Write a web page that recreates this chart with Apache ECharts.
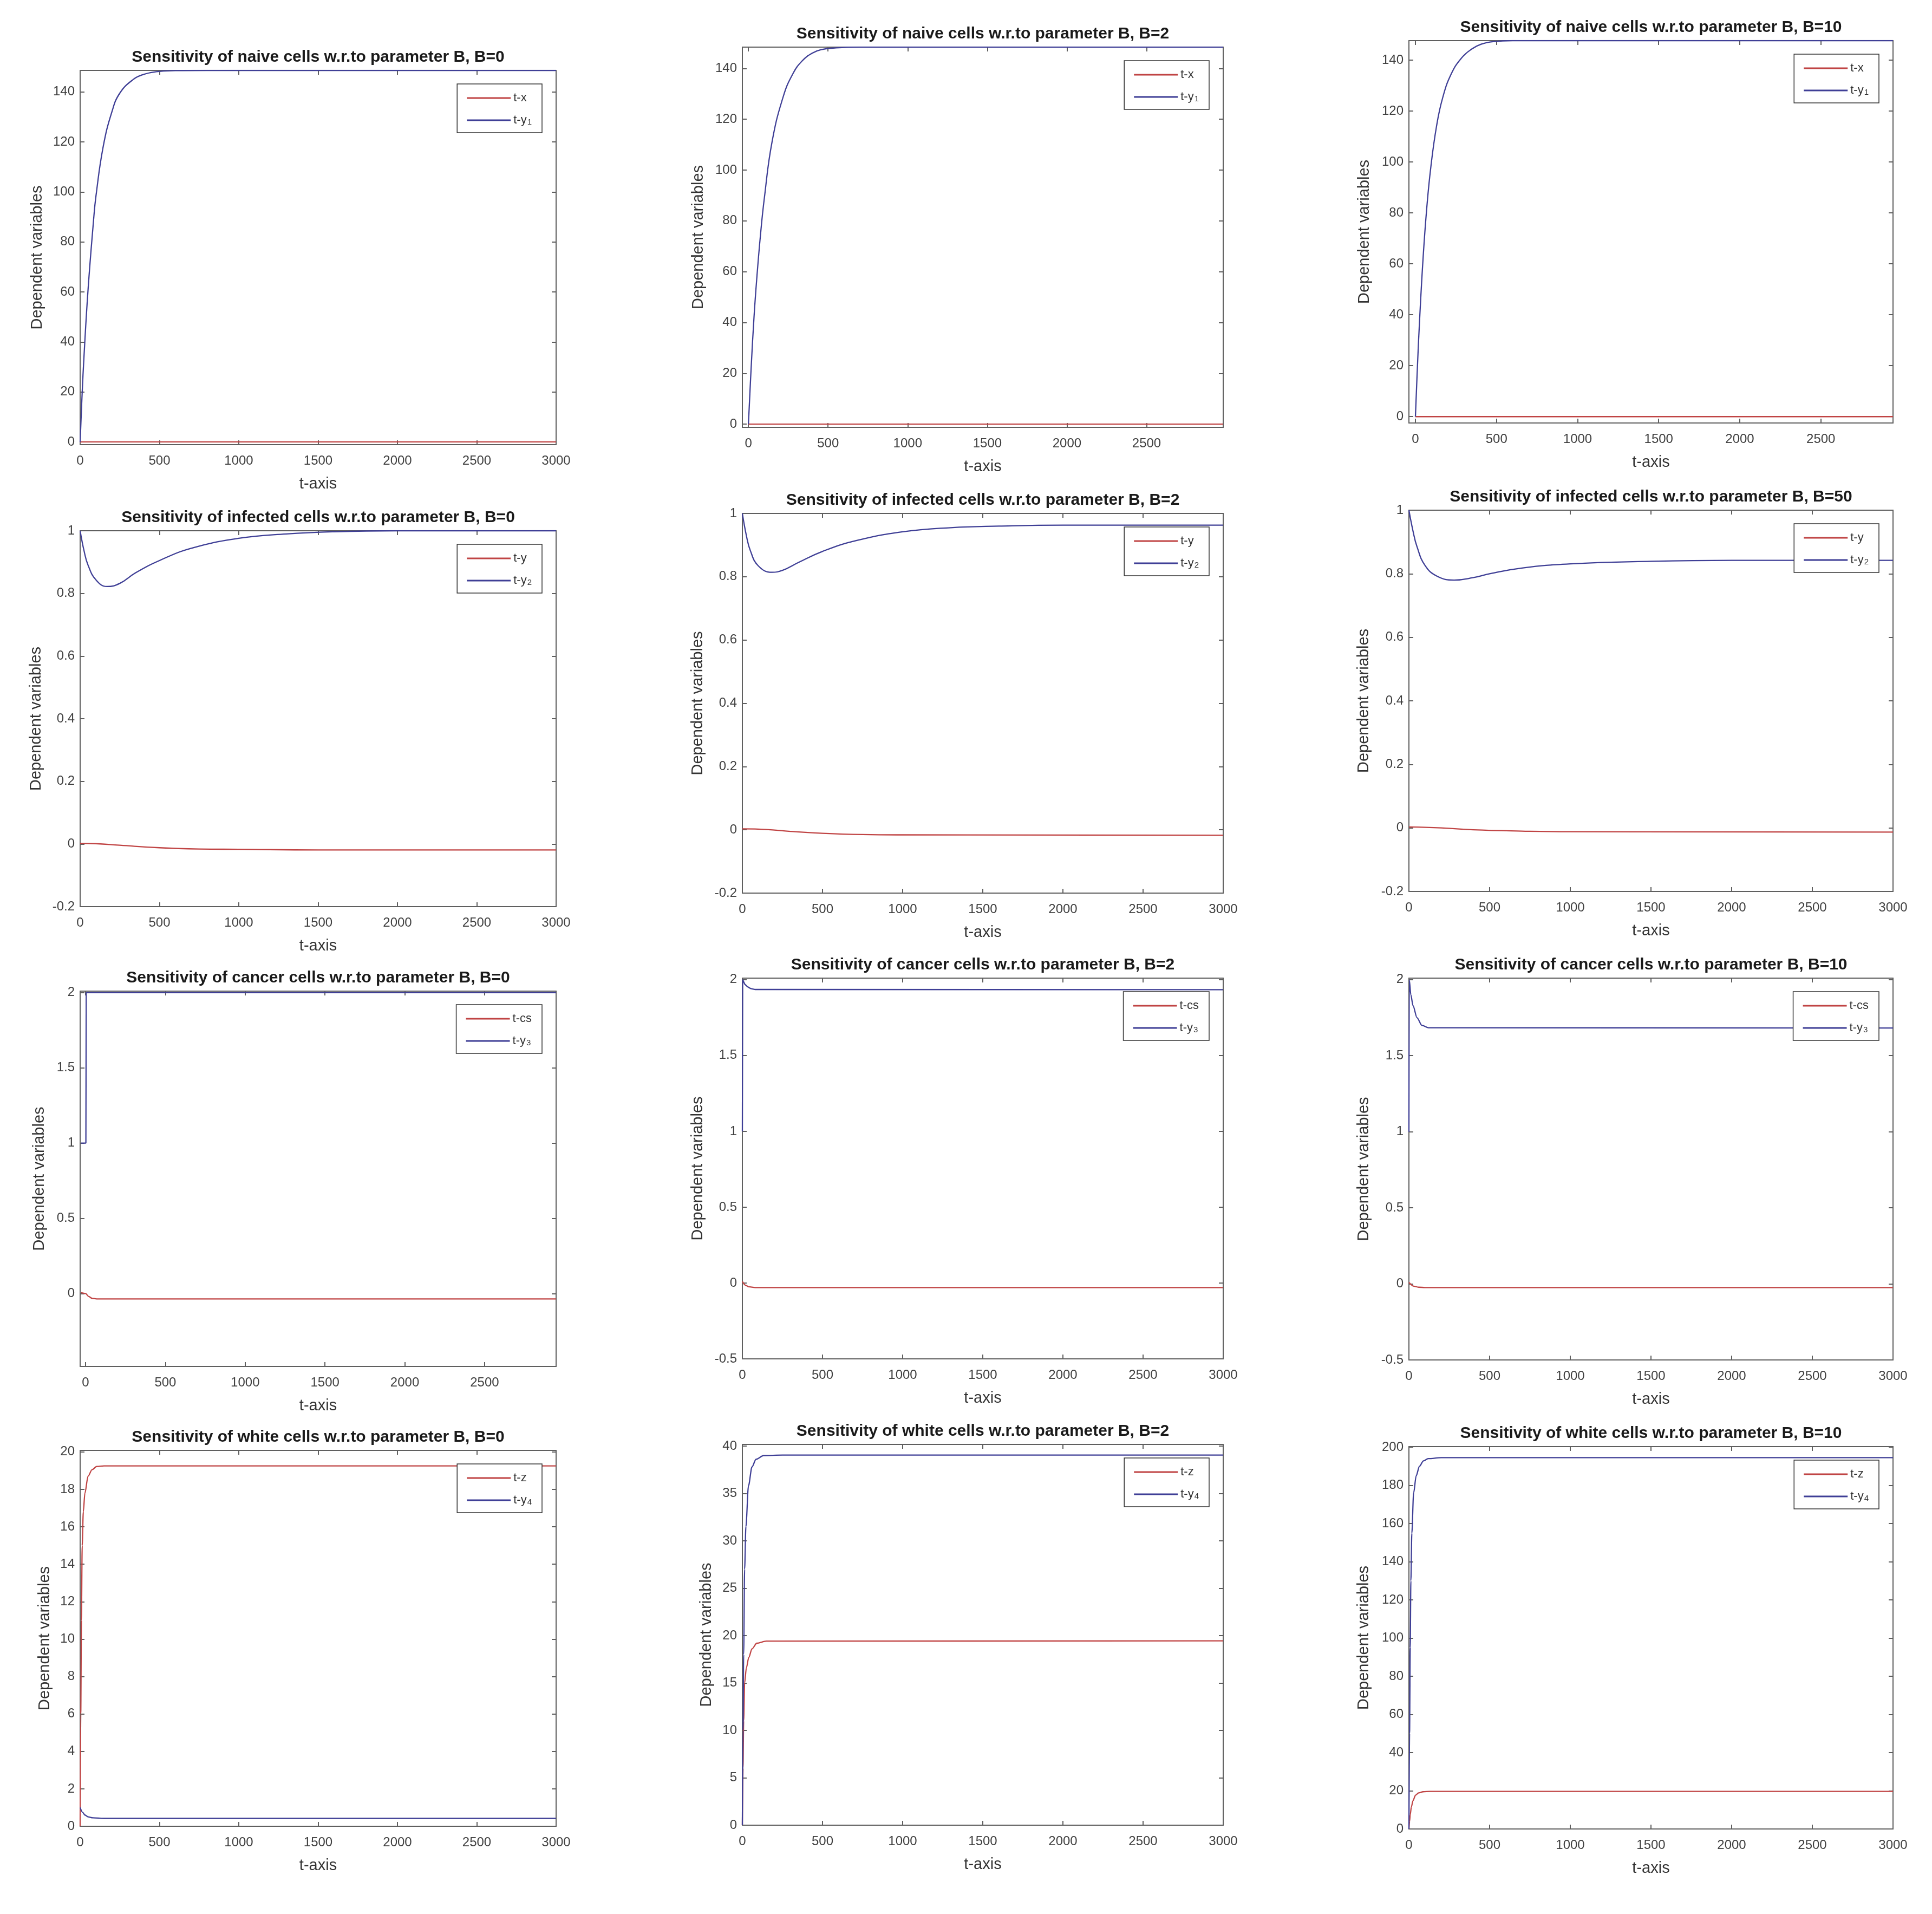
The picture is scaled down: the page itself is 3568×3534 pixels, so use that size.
<!DOCTYPE html>
<html>
<head>
<meta charset="utf-8">
<title>Sensitivity w.r.to parameter B</title>
<script src="https://cdn.jsdelivr.net/npm/echarts@6.0.0/dist/echarts.min.js"></script>
<style>
  html, body { margin: 0; padding: 0; background: #fff; }
  #SensitivityChartDom { width: 3568px; height: 3534px; }
</style>
</head>
<body>
<div id="SensitivityChartDom"></div>
<script>
// tick labels
const ticksT3000 = [0, 500, 1000, 1500, 2000, 2500, 3000];
const ticksT2500 = [0, 500, 1000, 1500, 2000, 2500];
const ticksNaive = [0, 20, 40, 60, 80, 100, 120, 140];
const ticksInfected = [-0.2, 0, 0.2, 0.4, 0.6, 0.8, 1];
const ticksCancer0 = [0, 0.5, 1, 1.5, 2];
const ticksCancer = [-0.5, 0, 0.5, 1, 1.5, 2];
const ticksWhite0 = [0, 2, 4, 6, 8, 10, 12, 14, 16, 18, 20];
const ticksWhite2 = [0, 5, 10, 15, 20, 25, 30, 35, 40];
const ticksWhite10 = [0, 20, 40, 60, 80, 100, 120, 140, 160, 180, 200];

// naive cells
const naive0T = [0, 12, 25, 50, 85, 100, 145, 200, 250, 335, 400, 480, 600, 800, 3000];
const naive0Y1 = [0, 18.5, 35, 61, 89, 98.5, 118, 132, 139.5, 145, 147, 148.1, 148.5, 148.6, 148.6];
const naive0XT = [0, 3000];
const naive0X = [0, 0];

const naive2T = [0, 17, 35, 52, 75, 100, 148, 219, 280, 338, 400, 457, 550, 700, 2981];
const naive2Y1 = [0, 22, 42, 57, 74, 89, 111, 129, 138, 143, 146, 147.4, 148.1, 148.4, 148.4];
const naive2XT = [0, 2981];
const naive2X = [0, 0];

const naive10T = [0, 12, 25, 48, 70, 95, 130, 167, 220, 286, 350, 405, 480, 600, 2945];
const naive10Y1 = [0, 19, 37, 63, 82, 98, 114, 125, 134.5, 141, 144.5, 146.3, 147.3, 147.7, 147.7];
const naive10XT = [0, 2945];
const naive10X = [0, 0];

// infected cells
const infected0T = [0, 25, 50, 100, 170, 250, 350, 500, 700, 1000, 1300, 1600, 2000, 3000];
const infected0Y2 = [1.0, 0.935, 0.89, 0.843, 0.822, 0.832, 0.866, 0.905, 0.944, 0.976, 0.99, 0.997, 1.0, 1.0];
const infected0YT = [0, 100, 250, 500, 750, 1000, 1500, 3000];
const infected0Y = [0.002, 0.001, -0.004, -0.012, -0.016, -0.017, -0.019, -0.019];

const infected2T = [0, 25, 50, 100, 185, 250, 350, 500, 700, 1000, 1300, 1600, 2000, 3000];
const infected2Y2 = [1.0, 0.93, 0.882, 0.834, 0.814, 0.82, 0.845, 0.88, 0.913, 0.942, 0.955, 0.96, 0.963, 0.963];
const infected2YT = [0, 150, 300, 500, 750, 1000, 3000];
const infected2Y = [0.003, 0.001, -0.005, -0.011, -0.015, -0.016, -0.017];

const infected50T = [0, 25, 50, 100, 175, 280, 400, 500, 700, 1000, 1500, 2000, 3000];
const infected50Y2 = [1.0, 0.935, 0.885, 0.826, 0.792, 0.78, 0.788, 0.8, 0.818, 0.831, 0.839, 0.842, 0.842];
const infected50YT = [0, 200, 400, 700, 1000, 3000];
const infected50Y = [0.003, 0.0, -0.006, -0.01, -0.012, -0.013];

// cancer cells
const cancer0T = [-28, 2, 4, 2948];
const cancer0Y3 = [1, 1, 2, 2];
const cancer0CsT = [-28, 0, 20, 40, 70, 2948];
const cancer0Cs = [0.005, 0, -0.02, -0.032, -0.036, -0.036];

const cancer2T = [0, 2, 15, 30, 50, 80, 3000];
const cancer2Y3 = [1.0, 2.0, 1.97, 1.955, 1.942, 1.935, 1.934];
const cancer2CsT = [0, 20, 40, 80, 3000];
const cancer2Cs = [0.01, -0.015, -0.025, -0.03, -0.03];

const cancer10T = [0, 2, 12, 25, 50, 80, 120, 3000];
const cancer10Y3 = [1.0, 2.0, 1.9, 1.83, 1.75, 1.70, 1.684, 1.682];
const cancer10CsT = [0, 30, 60, 100, 3000];
const cancer10Cs = [0.01, -0.015, -0.022, -0.024, -0.024];

// white cells
const white0ZT = [0, 4, 8, 13, 20, 30, 50, 75, 105, 150, 3000];
const white0Z = [0, 6, 11, 15, 16.8, 17.8, 18.7, 19.05, 19.22, 19.25, 19.25];
const white0Y4T = [0, 15, 30, 50, 80, 150, 3000];
const white0Y4 = [1.0, 0.75, 0.6, 0.5, 0.45, 0.42, 0.42];

const white2ZT = [0, 4, 8, 14, 25, 40, 60, 90, 150, 3000];
const white2Z = [0, 6, 11, 15, 16.6, 17.7, 18.6, 19.2, 19.42, 19.45];
const white2Y4T = [0, 4, 8, 14, 22, 38, 60, 85, 133, 250, 3000];
const white2Y4 = [0, 10, 18, 27, 31.5, 35.8, 37.8, 38.6, 39.0, 39.05, 39.05];

const white10ZT = [0, 4, 8, 15, 25, 41, 60, 88, 130, 3000];
const white10Z = [0, 4, 7.5, 11.5, 14.8, 17.7, 18.9, 19.5, 19.7, 19.7];
const white10Y4T = [0, 4, 8, 12, 18, 29, 45, 65, 90, 120, 200, 3000];
const white10Y4 = [0, 50, 95, 130, 155, 176, 185, 190, 192.8, 194, 194.5, 194.5];

const W = 3568;
const FONT = 'Liberation Sans, Arial, Helvetica, sans-serif';
const RED = '#c04444';
const BLUE = '#3f3f96';
const AXIS_COLOR = '#5f5f5f';
const LABEL_COLOR = '#404040';

// smoothing modes for the curves
const CURVE = { smooth: 0.45, monotone: null };
const FAST = { smooth: 0.3, monotone: 'x' };
const SHARP = { smooth: false, monotone: null };

// rect = [left, top, right, bottom] of each plot box in px
const panels = [
  { title: 'Sensitivity of naive cells w.r.to parameter B, B=0', rect: [148, 130, 1027, 821], x: [0, 3000], xTicks: ticksT3000, y: [-1.1, 148.6], yTicks: ticksNaive, gap: 65,
    lines: [['t-x', naive0XT, naive0X, RED, SHARP], ['t-y1', naive0T, naive0Y1, BLUE, CURVE]] },
  { title: 'Sensitivity of naive cells w.r.to parameter B, B=2', rect: [1371, 87, 2259, 789], x: [-38, 2981], xTicks: ticksT2500, y: [-1.25, 148.4], yTicks: ticksNaive, gap: 67,
    lines: [['t-x', naive2XT, naive2X, RED, SHARP], ['t-y1', naive2T, naive2Y1, BLUE, CURVE]] },
  { title: 'Sensitivity of naive cells w.r.to parameter B, B=10', rect: [2602, 75, 3496, 781], x: [-40, 2945], xTicks: ticksT2500, y: [-2.5, 147.7], yTicks: ticksNaive, gap: 68,
    lines: [['t-x', naive10XT, naive10X, RED, SHARP], ['t-y1', naive10T, naive10Y1, BLUE, CURVE]] },

  { title: 'Sensitivity of infected cells w.r.to parameter B, B=0', rect: [148, 980, 1027, 1674], x: [0, 3000], xTicks: ticksT3000, y: [-0.2, 1], yTicks: ticksInfected, gap: 67,
    lines: [['t-y', infected0YT, infected0Y, RED, CURVE], ['t-y2', infected0T, infected0Y2, BLUE, CURVE]] },
  { title: 'Sensitivity of infected cells w.r.to parameter B, B=2', rect: [1371, 948, 2259, 1649], x: [0, 3000], xTicks: ticksT3000, y: [-0.2, 1], yTicks: ticksInfected, gap: 68,
    lines: [['t-y', infected2YT, infected2Y, RED, CURVE], ['t-y2', infected2T, infected2Y2, BLUE, CURVE]] },
  { title: 'Sensitivity of infected cells w.r.to parameter B, B=50', rect: [2602, 942, 3496, 1646], x: [0, 3000], xTicks: ticksT3000, y: [-0.2, 1], yTicks: ticksInfected, gap: 69,
    lines: [['t-y', infected50YT, infected50Y, RED, CURVE], ['t-y2', infected50T, infected50Y2, BLUE, CURVE]] },

  { title: 'Sensitivity of cancer cells w.r.to parameter B, B=0', rect: [148, 1830, 1027, 2523], x: [-34, 2948], xTicks: ticksT2500, y: [-0.485, 2.01], yTicks: ticksCancer0, gap: 61,
    lines: [['t-cs', cancer0CsT, cancer0Cs, RED, FAST], ['t-y3', cancer0T, cancer0Y3, BLUE, SHARP]] },
  { title: 'Sensitivity of cancer cells w.r.to parameter B, B=2', rect: [1371, 1806, 2259, 2509], x: [0, 3000], xTicks: ticksT3000, y: [-0.5, 2.01], yTicks: ticksCancer, gap: 68,
    lines: [['t-cs', cancer2CsT, cancer2Cs, RED, FAST], ['t-y3', cancer2T, cancer2Y3, BLUE, SHARP]] },
  { title: 'Sensitivity of cancer cells w.r.to parameter B, B=10', rect: [2602, 1806, 3496, 2511], x: [0, 3000], xTicks: ticksT3000, y: [-0.5, 2.01], yTicks: ticksCancer, gap: 69,
    lines: [['t-cs', cancer10CsT, cancer10Cs, RED, FAST], ['t-y3', cancer10T, cancer10Y3, BLUE, FAST]] },

  { title: 'Sensitivity of white cells w.r.to parameter B, B=0', rect: [148, 2678, 1027, 3372], x: [0, 3000], xTicks: ticksT3000, y: [0, 20.08], yTicks: ticksWhite0, gap: 51,
    lines: [['t-z', white0ZT, white0Z, RED, FAST], ['t-y4', white0Y4T, white0Y4, BLUE, FAST]] },
  { title: 'Sensitivity of white cells w.r.to parameter B, B=2', rect: [1371, 2667, 2259, 3370], x: [0, 3000], xTicks: ticksT3000, y: [0, 40.17], yTicks: ticksWhite2, gap: 52,
    lines: [['t-z', white2ZT, white2Z, RED, FAST], ['t-y4', white2Y4T, white2Y4, BLUE, FAST]] },
  { title: 'Sensitivity of white cells w.r.to parameter B, B=10', rect: [2602, 2671, 3496, 3377], x: [0, 3000], xTicks: ticksT3000, y: [0, 200.3], yTicks: ticksWhite10, gap: 69,
    lines: [['t-z', white10ZT, white10Z, RED, FAST], ['t-y4', white10Y4T, white10Y4, BLUE, FAST]] }
];

const zip = (t, v) => t.map((ti, k) => [ti, v[k]]);

const legendLabel = (name) => {
  const m = name.match(/^t-y(\d)$/);
  return m ? '{n|t-y}{s|' + m[1] + '}' : '{n|' + name + '}';
};

const option = {
  animation: false,
  backgroundColor: '#fff',
  grid: [],
  xAxis: [],
  yAxis: [],
  series: [],
  legend: [],
  graphic: []
};

panels.forEach((p, i) => {
  const [gl, gt, gr, gb] = p.rect;
  option.grid.push({ left: gl, top: gt, width: gr - gl, height: gb - gt, outerBoundsMode: 'none' });

  const line = { show: true, onZero: false, lineStyle: { color: AXIS_COLOR, width: 2 } };
  const tick = (vals) => ({ show: true, inside: true, length: 8, customValues: vals, lineStyle: { color: AXIS_COLOR, width: 2 } });
  const label = (vals, margin) => ({
    show: true, customValues: vals, margin: margin, fontSize: 24, color: LABEL_COLOR, fontFamily: FONT,
    formatter: (v) => String(v)
  });
  const nameStyle = { fontSize: 29, color: '#333', fontFamily: FONT };

  option.xAxis.push({
    type: 'value', gridIndex: i, position: 'bottom', min: p.x[0], max: p.x[1],
    axisLine: line, axisTick: tick(p.xTicks), axisLabel: label(p.xTicks, 18), splitLine: { show: false },
    name: 't-axis', nameLocation: 'middle', nameGap: 58, nameTextStyle: nameStyle
  });
  option.xAxis.push({
    type: 'value', gridIndex: i, position: 'top', min: p.x[0], max: p.x[1],
    axisLine: line, axisTick: tick(p.xTicks), axisLabel: { show: false }, splitLine: { show: false }
  });
  option.yAxis.push({
    type: 'value', gridIndex: i, position: 'left', min: p.y[0], max: p.y[1],
    axisLine: line, axisTick: tick(p.yTicks), axisLabel: label(p.yTicks, 10), splitLine: { show: false },
    name: 'Dependent variables', nameLocation: 'middle', nameGap: p.gap, nameTextStyle: nameStyle
  });
  option.yAxis.push({
    type: 'value', gridIndex: i, position: 'right', min: p.y[0], max: p.y[1],
    axisLine: line, axisTick: tick(p.yTicks), axisLabel: { show: false }, splitLine: { show: false }
  });

  p.lines.forEach(([name, t, v, color, mode]) => {
    const s = {
      type: 'line', name: name, xAxisIndex: 2 * i, yAxisIndex: 2 * i,
      data: zip(t, v), symbol: 'none', showSymbol: false,
      smooth: mode.smooth, clip: true,
      lineStyle: { color: color, width: 2.3 }, itemStyle: { color: color }
    };
    if (mode.monotone) s.smoothMonotone = mode.monotone;
    option.series.push(s);
  });

  option.legend.push({
    data: p.lines.map((l) => l[0]),
    orient: 'vertical',
    right: W - (gr - 26),
    top: gt + 25,
    icon: 'rect',
    itemWidth: 81,
    itemHeight: 3,
    itemGap: 10,
    padding: [15, 19, 12, 18],
    backgroundColor: '#fff',
    borderColor: '#333',
    borderWidth: 1.5,
    selectedMode: false,
    formatter: legendLabel,
    textStyle: {
      color: '#333', fontFamily: FONT,
      rich: {
        n: { fontSize: 22, lineHeight: 22, color: '#333', fontFamily: FONT, verticalAlign: 'top' },
        s: { fontSize: 15, lineHeight: 15, color: '#333', fontFamily: FONT, verticalAlign: 'bottom', padding: [16, 0, 0, 1] }
      }
    }
  });

  option.graphic.push({
    type: 'text', x: (gl + gr) / 2, y: gt - 24, silent: true,
    style: { text: p.title, fontSize: 30, fontWeight: 'bold', fontFamily: FONT, fill: '#1a1a1a', align: 'center', verticalAlign: 'middle' }
  });
});

let myChart = null;
const initSensitivityChart = () => {
  const chartDom = document.getElementById('SensitivityChartDom');
  myChart = echarts.init(chartDom, null, { renderer: 'canvas' });
  myChart.setOption(option);
};
initSensitivityChart();
</script>
</body>
</html>
